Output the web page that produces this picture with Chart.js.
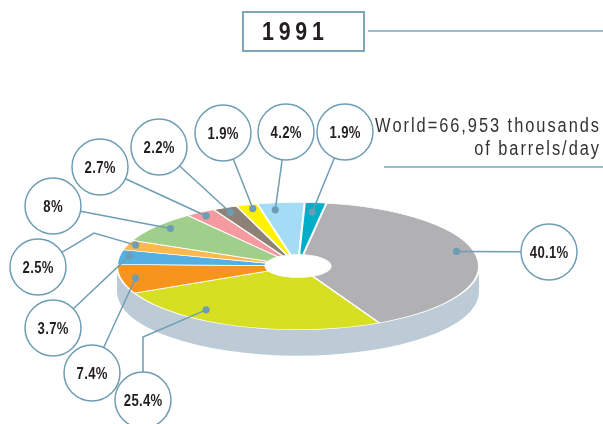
<!DOCTYPE html>
<html>
<head>
<meta charset="utf-8">
<script src="https://cdn.jsdelivr.net/npm/chart.js@4.4.1/dist/chart.umd.min.js"></script>
<style>
  html, body { margin: 0; padding: 0; background: #ffffff; }
  #c { display: block; }
</style>
</head>
<body>
<canvas id="c" width="603" height="424"></canvas>
<script>
// ---- data ----
const title = '1991';
const worldLine1 = 'World=66,953 thousands';
const worldLine2 = 'of barrels/day';
const categories = ['Slice 1', 'Slice 2', 'Slice 3', 'Slice 4', 'Slice 5', 'Slice 6', 'Slice 7', 'Slice 8', 'Slice 9', 'Slice 10', 'Slice 11'];
const shares = [40.1, 25.4, 7.4, 3.7, 2.5, 8, 2.7, 2.2, 1.9, 4.2, 1.9];
const shareLabels = ['40.1%', '25.4%', '7.4%', '3.7%', '2.5%', '8%', '2.7%', '2.2%', '1.9%', '4.2%', '1.9%'];
const sliceColors = ['#b1b1b4', '#d6df22', '#f7941d', '#55b0e2', '#fdb94e', '#9fcf8a', '#f49aa0', '#8d8275', '#fff200', '#a5dcf5', '#00aec8'];

// ---- callout layout (annotation placement, not data) ----
const dotAngleFrac = [0.46, 0.69, 0.5, 0.64, 0.59, 0.56, 0.47, 0.47, 0.63, 0.32, 0.46];
const dotRadiusFrac = [0.905, 0.855, 0.917, 0.945, 0.955, 0.918, 0.935, 0.92, 0.935, 0.89, 0.85];
const bubbleCenters = [[549, 252], [143, 400], [92, 373], [53, 328], [38, 267], [53, 206], [100, 167], [159, 147], [223, 133], [286, 132], [345, 132]];
const bubbleElbows = [null, [143, 337], null, null, [94, 233], null, null, null, null, null, null];

const SQUASH = 0.352;
const CENTER_Y = 266;
const DEPTH = 26;
const LINE_COLOR = '#6e9db4';
const FONT = '"Liberation Sans", Arimo, Arial, sans-serif';
const NARROW_X = 0.82; // emulate a condensed face

function project(arc, angle, r) {
  return [arc.x + r * Math.cos(angle), CENTER_Y + r * Math.sin(angle) * SQUASH];
}

// draw text char by char, horizontally condensed, with letter spacing
function drawSpaced(ctx, text, x, y, font, align, spacing, color) {
  ctx.save();
  ctx.font = font;
  ctx.fillStyle = color;
  ctx.textAlign = 'left';
  const widths = [...text].map(ch => ctx.measureText(ch).width * NARROW_X);
  const total = widths.reduce((a, b) => a + b, 0) + spacing * (text.length - 1);
  let start = align === 'right' ? x - total : align === 'center' ? x - total / 2 : x;
  [...text].forEach((ch, i) => {
    ctx.save();
    ctx.translate(start, y);
    ctx.scale(NARROW_X, 1);
    ctx.fillText(ch, 0, 0);
    ctx.restore();
    start += widths[i] + spacing;
  });
  ctx.restore();
  return total;
}
function naturalWidth(ctx, text, font) {
  ctx.save();
  ctx.font = font;
  const w = [...text].reduce((a, ch) => a + ctx.measureText(ch).width * NARROW_X, 0);
  ctx.restore();
  return w;
}

const tiltPlugin = {
  id: 'tilt',
  beforeDatasetsDraw(chart) {
    const ctx = chart.ctx;
    const arc = chart.getDatasetMeta(0).data[0];
    const cx = arc.x, rx = arc.outerRadius, ry = arc.outerRadius * SQUASH;
    ctx.save();
    ctx.beginPath();
    ctx.moveTo(cx + rx, CENTER_Y);
    ctx.lineTo(cx + rx, CENTER_Y + DEPTH);
    ctx.ellipse(cx, CENTER_Y + DEPTH, rx, ry, 0, 0, Math.PI, false);
    ctx.lineTo(cx - rx, CENTER_Y);
    ctx.ellipse(cx, CENTER_Y, rx, ry, 0, Math.PI, 0, true);
    ctx.closePath();
    ctx.fillStyle = '#bccbd6';
    ctx.fill();
    ctx.restore();
    ctx.save();
    ctx.translate(0, CENTER_Y);
    ctx.scale(1, SQUASH);
    ctx.translate(0, -arc.y);
  },
  afterDatasetsDraw(chart) {
    chart.ctx.restore();
  }
};

const calloutPlugin = {
  id: 'callouts',
  afterDraw(chart) {
    const ctx = chart.ctx;
    const arcs = chart.getDatasetMeta(0).data;
    const R = 28;
    const dots = arcs.map((arc, i) => {
      const a = arc.startAngle + dotAngleFrac[i] * (arc.endAngle - arc.startAngle);
      return project(arc, a, arc.outerRadius * dotRadiusFrac[i]);
    });
    ctx.save();
    ctx.strokeStyle = LINE_COLOR;
    ctx.lineWidth = 1.5;
    arcs.forEach((arc, i) => {
      const pts = [dots[i]];
      if (bubbleElbows[i]) pts.push(bubbleElbows[i]);
      const last = pts[pts.length - 1];
      const [bx, by] = bubbleCenters[i];
      const dx = last[0] - bx, dy = last[1] - by;
      const d = Math.hypot(dx, dy) || 1;
      pts.push([bx + dx / d * R, by + dy / d * R]);
      ctx.beginPath();
      ctx.moveTo(pts[0][0], pts[0][1]);
      for (let k = 1; k < pts.length; k++) ctx.lineTo(pts[k][0], pts[k][1]);
      ctx.stroke();
    });
    arcs.forEach((arc, i) => {
      const [bx, by] = bubbleCenters[i];
      ctx.beginPath();
      ctx.arc(bx, by, R, 0, Math.PI * 2);
      ctx.fillStyle = '#ffffff';
      ctx.fill();
      ctx.lineWidth = 1.5;
      ctx.strokeStyle = LINE_COLOR;
      ctx.stroke();
      ctx.textBaseline = 'alphabetic';
      drawSpaced(ctx, shareLabels[i], bx, by + 6, 'bold 16px ' + FONT, 'center', 0.3, '#231f20');
    });
    dots.forEach(([x, y]) => {
      ctx.beginPath();
      ctx.arc(x, y, 3.6, 0, Math.PI * 2);
      ctx.fillStyle = '#6d9db4';
      ctx.fill();
    });

    // title box
    ctx.lineWidth = 2;
    ctx.strokeStyle = '#7fa6b8';
    ctx.strokeRect(243, 12, 121, 39);
    ctx.beginPath();
    ctx.moveTo(368, 31);
    ctx.lineTo(603, 31);
    ctx.lineWidth = 1.5;
    ctx.strokeStyle = '#7aa7bd';
    ctx.stroke();
    ctx.textBaseline = 'alphabetic';
    drawSpaced(ctx, title, 262, 40, 'bold 26px ' + FONT, 'left', 4.8, '#231f20');

    // world total
    const wFont = '20px ' + FONT;
    const nat = naturalWidth(ctx, worldLine1, wFont);
    const sp = Math.max(0, (224 - nat) / (worldLine1.length - 1));
    drawSpaced(ctx, worldLine1, 599, 132, wFont, 'right', sp, '#333333');
    drawSpaced(ctx, worldLine2, 599, 155, wFont, 'right', sp, '#333333');
    ctx.beginPath();
    ctx.moveTo(384, 167);
    ctx.lineTo(603, 167);
    ctx.lineWidth = 2;
    ctx.strokeStyle = '#9dbccb';
    ctx.stroke();
    ctx.restore();
  }
};

new Chart(document.getElementById('c').getContext('2d'), {
  type: 'doughnut',
  data: {
    labels: categories,
    datasets: [{
      data: shares,
      backgroundColor: sliceColors,
      borderColor: '#ffffff',
      borderWidth: 2
    }]
  },
  options: {
    responsive: false,
    animation: false,
    events: [],
    rotation: 9,
    cutout: '18%',
    layout: { padding: { left: 116, right: 123, top: 0, bottom: 0 } },
    plugins: { legend: { display: false }, tooltip: { enabled: false } }
  },
  plugins: [tiltPlugin, calloutPlugin]
});
</script>
</body>
</html>
